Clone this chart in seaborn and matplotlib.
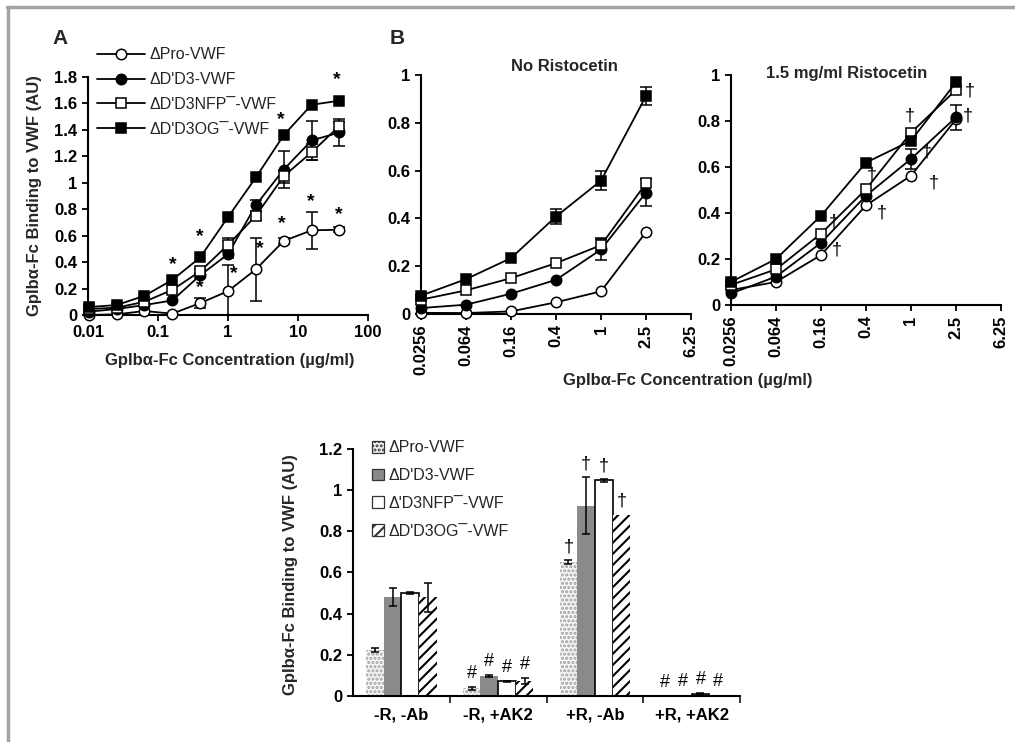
import matplotlib
matplotlib.use('Agg')
import matplotlib.pyplot as plt
from matplotlib.lines import Line2D
from matplotlib.ticker import FixedLocator, FuncFormatter, NullLocator
import seaborn as sns
import numpy as np
import pandas as pd

sns.set_theme(style="ticks")
plt.rcParams['font.family'] = ['Liberation Sans', 'DejaVu Sans']
plt.rcParams['hatch.linewidth'] = 1.5

# ---------------- data ----------------
series_names = ["ΔPro-VWF", "ΔD'D3-VWF", "ΔD'D3NFP¯-VWF", "ΔD'D3OG¯-VWF"]
series_markers = ['o', 'o', 's', 's']
series_faces = ['white', 'black', 'white', 'black']

# panel A: dose response, 0.01 - 39 ug/ml
conc_a = [0.01024, 0.0256, 0.064, 0.16, 0.4, 1, 2.5, 6.25, 15.625, 39.0625]
a_pro = [0.0, 0.005, 0.03, 0.01, 0.09, 0.18, 0.345, 0.56, 0.64, 0.645]
a_d3 = [0.025, 0.045, 0.075, 0.11, 0.30, 0.46, 0.83, 1.10, 1.32, 1.38]
a_nfp = [0.045, 0.055, 0.10, 0.19, 0.33, 0.53, 0.75, 1.05, 1.23, 1.43]
a_og = [0.06, 0.075, 0.145, 0.265, 0.435, 0.74, 1.04, 1.36, 1.59, 1.62]
a_pro_err = [0, 0, 0, 0, 0.04, 0.2, 0.24, 0.02, 0.14, 0.02]
a_d3_err = [0, 0, 0, 0, 0.02, 0.03, 0.04, 0.14, 0.15, 0.1]
a_nfp_err = [0, 0, 0, 0, 0.02, 0.05, 0.03, 0.05, 0.06, 0.03]
a_og_err = [0, 0, 0, 0, 0, 0, 0, 0, 0, 0]
star_x = [0.16, 0.4, 0.4, 0.17, 1.2, 2.8, 5.6, 5.9, 15.0, 36.0, 38.0]
star_y = [0.38, 0.59, 0.21, 0.08, 0.31, 0.50, 1.48, 0.69, 0.86, 1.78, 0.76]

# panel B: 0.0256 - 2.5 ug/ml, with and without ristocetin
conc_b = [0.0256, 0.064, 0.16, 0.4, 1, 2.5]
b_ticks = [0.0256, 0.064, 0.16, 0.4, 1, 2.5, 6.25]
nr_pro = [0.005, 0.004, 0.011, 0.049, 0.095, 0.343]
nr_d3 = [0.025, 0.039, 0.085, 0.143, 0.27, 0.508]
nr_nfp = [0.06, 0.099, 0.15, 0.213, 0.288, 0.547]
nr_og = [0.077, 0.146, 0.234, 0.408, 0.558, 0.912]
nr_pro_err = [0, 0, 0, 0, 0, 0]
nr_d3_err = [0, 0, 0, 0, 0.045, 0.055]
nr_nfp_err = [0, 0, 0, 0, 0.03, 0]
nr_og_err = [0, 0, 0, 0.03, 0.04, 0.038]
r_pro = [0.065, 0.10, 0.217, 0.433, 0.562, 0.807]
r_d3 = [0.05, 0.123, 0.27, 0.475, 0.635, 0.816]
r_nfp = [0.087, 0.155, 0.31, 0.503, 0.749, 0.935]
r_og = [0.10, 0.20, 0.388, 0.619, 0.714, 0.968]
r_pro_err = [0, 0, 0, 0, 0, 0]
r_d3_err = [0, 0, 0, 0, 0.045, 0.055]
r_nfp_err = [0, 0, 0, 0, 0, 0]
r_og_err = [0, 0, 0, 0, 0, 0]
dag_x = [0.98, 0.45, 0.555, 0.208, 0.222, 1.38, 1.58, 3.33, 3.2]
dag_y = [0.82, 0.565, 0.40, 0.36, 0.24, 0.667, 0.53, 0.93, 0.82]

# bar chart
conditions = ['-R, -Ab', '-R, +AK2', '+R, -Ab', '+R, +AK2']
bar_names = ["ΔPro-VWF", "ΔD'D3-VWF", "Δ'D3NFP¯-VWF", "ΔD'D3OG¯-VWF"]
bar_pro = [0.224, 0.037, 0.649, 0.002]
bar_d3 = [0.48, 0.096, 0.924, 0.005]
bar_nfp = [0.50, 0.072, 1.047, 0.012]
bar_og = [0.48, 0.073, 0.88, 0.003]
bar_pro_err = [0.01, 0.007, 0.01, 0]
bar_d3_err = [0.043, 0.005, 0.138, 0]
bar_nfp_err = [0.005, 0.003, 0.005, 0.004]
bar_og_err = [0.07, 0.015, 0, 0]
bar_pro_mark = ['', '#', '†', '#']
bar_d3_mark = ['', '#', '†', '#']
bar_nfp_mark = ['', '#', '†', '#']
bar_og_mark = ['', '#', '†', '#']


def num_fmt(v, _):
    return f"{v:g}"


def style_axis(ax):
    sns.despine(ax=ax)
    for s in ['left', 'bottom']:
        ax.spines[s].set_linewidth(1.5)
        ax.spines[s].set_color('black')
    ax.tick_params(direction='out', length=4, width=1.3, colors='black',
                   labelsize=12)
    for lab in ax.get_xticklabels() + ax.get_yticklabels():
        lab.set_fontweight('bold')


def draw_series(ax, x, ys, errs, labels=None):
    for i, (vals, err) in enumerate(zip(ys, errs)):
        e = np.array(err, dtype=float)
        m = e > 0
        if m.any():
            ax.errorbar(np.array(x)[m], np.array(vals)[m], yerr=e[m], fmt='none',
                        ecolor='black', elinewidth=1.1, capsize=4, capthick=1.1,
                        zorder=2)
        sns.lineplot(x=x, y=vals, ax=ax, color='black', marker=series_markers[i],
                     markerfacecolor=series_faces[i], markeredgecolor='black',
                     markeredgewidth=1.1, markersize=7.5, linewidth=1.3,
                     label=None if labels is None else labels[i],
                     legend=False, clip_on=False, zorder=3)


fig = plt.figure(figsize=(10.15, 7.42), dpi=100)

# ---------------- panel A ----------------
axA = fig.add_axes([0.0867, 0.5755, 0.2759, 0.3208])
draw_series(axA, conc_a, [a_pro, a_d3, a_nfp, a_og],
            [a_pro_err, a_d3_err, a_nfp_err, a_og_err], labels=series_names)
axA.set_xscale('log')
axA.set_xlim(0.01, 100)
axA.set_ylim(0, 1.8)
axA.xaxis.set_major_locator(FixedLocator([0.01, 0.1, 1, 10, 100]))
axA.xaxis.set_minor_locator(NullLocator())
axA.xaxis.set_major_formatter(FuncFormatter(num_fmt))
axA.yaxis.set_major_locator(FixedLocator(np.arange(0, 1.81, 0.2)))
axA.yaxis.set_major_formatter(FuncFormatter(num_fmt))
style_axis(axA)
axA.set_xlabel('GpIbα-Fc Concentration (µg/ml)', fontsize=12, fontweight='bold')
axA.xaxis.set_label_coords(0.507, -0.16)
axA.set_ylabel('GpIbα-Fc Binding to VWF (AU)', fontsize=12, fontweight='bold')
axA.yaxis.set_label_coords(-0.165, 0.5)
for sx, sy in zip(star_x, star_y):
    axA.text(sx, sy, '*', ha='center', va='center', fontsize=14,
             fontweight='bold', color='black')
axA.legend(loc='upper left', bbox_to_anchor=(0.033, 1.125), frameon=False,
           handlelength=3.0, handletextpad=0.3, labelspacing=0.62, borderpad=0,
           borderaxespad=0, prop={'size': 11.5})

# ---------------- panel B ----------------
axL = fig.add_axes([0.4148, 0.5768, 0.266, 0.3221])
axR = fig.add_axes([0.7202, 0.589, 0.266, 0.31])
draw_series(axL, conc_b, [nr_pro, nr_d3, nr_nfp, nr_og],
            [nr_pro_err, nr_d3_err, nr_nfp_err, nr_og_err])
draw_series(axR, conc_b, [r_pro, r_d3, r_nfp, r_og],
            [r_pro_err, r_d3_err, r_nfp_err, r_og_err])
for ax in (axL, axR):
    ax.set_xscale('log')
    ax.set_xlim(0.0256, 6.25)
    ax.set_ylim(0, 1)
    ax.xaxis.set_major_locator(FixedLocator(b_ticks))
    ax.xaxis.set_minor_locator(NullLocator())
    ax.xaxis.set_major_formatter(FuncFormatter(num_fmt))
    ax.yaxis.set_major_locator(FixedLocator(np.arange(0, 1.01, 0.2)))
    ax.yaxis.set_major_formatter(FuncFormatter(num_fmt))
    style_axis(ax)
    ax.tick_params(axis='x', labelrotation=90)
    ax.set_xlabel('')
    ax.set_ylabel('')
axL.text(0.533, 1.035, 'No Ristocetin', transform=axL.transAxes, ha='center',
         va='center', fontsize=12, fontweight='bold')
axR.text(0.43, 1.005, '1.5 mg/ml Ristocetin', transform=axR.transAxes,
         ha='center', va='center', fontsize=12, fontweight='bold')
for dx, dy in zip(dag_x, dag_y):
    axR.text(dx, dy, '†', ha='center', va='center', fontsize=13, color='black')
fig.text(0.678, 1 - 381 / 742, 'GpIbα-Fc Concentration (µg/ml)', ha='center',
         va='center', fontsize=12, fontweight='bold')

fig.text(60 / 1015, 1 - 38 / 742, 'A', ha='center', va='center', fontsize=15,
         fontweight='bold')
fig.text(397 / 1015, 1 - 38 / 742, 'B', ha='center', va='center', fontsize=15,
         fontweight='bold')

# ---------------- bar chart ----------------
axBar = fig.add_axes([0.3478, 0.062, 0.3813, 0.3329])
bar_vals = [bar_pro, bar_d3, bar_nfp, bar_og]
bar_errs = [bar_pro_err, bar_d3_err, bar_nfp_err, bar_og_err]
bar_marks = [bar_pro_mark, bar_d3_mark, bar_nfp_mark, bar_og_mark]
df = pd.DataFrame({
    'cond': conditions * 4,
    'series': np.repeat(bar_names, 4),
    'val': np.concatenate(bar_vals),
})
bar_faces = {bar_names[0]: '#f6f6f6', bar_names[1]: '#8a8a8a',
             bar_names[2]: 'white', bar_names[3]: 'white'}
sns.barplot(data=df, x='cond', y='val', hue='series', hue_order=bar_names,
            order=conditions, palette=bar_faces, saturation=1, width=0.73,
            errorbar=None, legend=False, ax=axBar)
bar_conts = list(axBar.containers)
bar_style = [('....', '#a0a0a0', 0), (None, '#8a8a8a', 0),
             (None, 'black', 1.2), ('///', 'black', 0)]
for cont, (hatch, ec, lw), vals, errs, marks in zip(bar_conts, bar_style,
                                                     bar_vals, bar_errs, bar_marks):
    centers = []
    for p in cont.patches:
        p.set_hatch(hatch)
        p.set_edgecolor(ec)
        p.set_linewidth(lw)
        centers.append(p.get_x() + p.get_width() / 2)
    e = np.array(errs, dtype=float)
    m = e > 0
    axBar.errorbar(np.array(centers)[m], np.array(vals)[m], yerr=e[m], fmt='none',
                   ecolor='black', elinewidth=1.1, capsize=3, capthick=1.1,
                   zorder=4)
    for cx, v, er, mk in zip(centers, vals, errs, marks):
        if mk:
            axBar.text(cx, v + er + 0.065, mk, ha='center', va='center',
                       fontsize=13, color='black')
axBar.set_xlim(-0.5, 3.5)
axBar.set_ylim(0, 1.2)
axBar.yaxis.set_major_locator(FixedLocator(np.arange(0, 1.21, 0.2)))
axBar.yaxis.set_major_formatter(FuncFormatter(num_fmt))
axBar.xaxis.set_minor_locator(FixedLocator([0.5, 1.5, 2.5, 3.5]))
style_axis(axBar)
axBar.tick_params(axis='x', which='major', length=0, pad=8)
axBar.tick_params(axis='x', which='minor', length=5, width=1.3, direction='out')
axBar.set_xlabel('')
axBar.set_ylabel('GpIbα-Fc Binding to VWF (AU)', fontsize=12, fontweight='bold')
axBar.yaxis.set_label_coords(-0.142, 0.49)
handles = [c.patches[0] for c in bar_conts]
leg = axBar.legend(handles, bar_names, loc='upper left',
                   bbox_to_anchor=(0.05, 1.035), frameon=False,
                   handlelength=0.75, handleheight=0.75, handletextpad=0.25,
                   labelspacing=0.8, borderpad=0, borderaxespad=0,
                   prop={'size': 11.5})
for lp in leg.get_patches():
    lp.set_edgecolor('#333333')
    lp.set_linewidth(0.9)

# gray frame on top and left
fig.add_artist(Line2D([7 / 1015, 1], [1 - 7 / 742, 1 - 7 / 742],
                      transform=fig.transFigure, color='#a3a3a3', lw=2.5))
fig.add_artist(Line2D([8 / 1015, 8 / 1015], [0, 1 - 7 / 742],
                      transform=fig.transFigure, color='#a3a3a3', lw=2.5))

fig.savefig('out.png', dpi=100)
